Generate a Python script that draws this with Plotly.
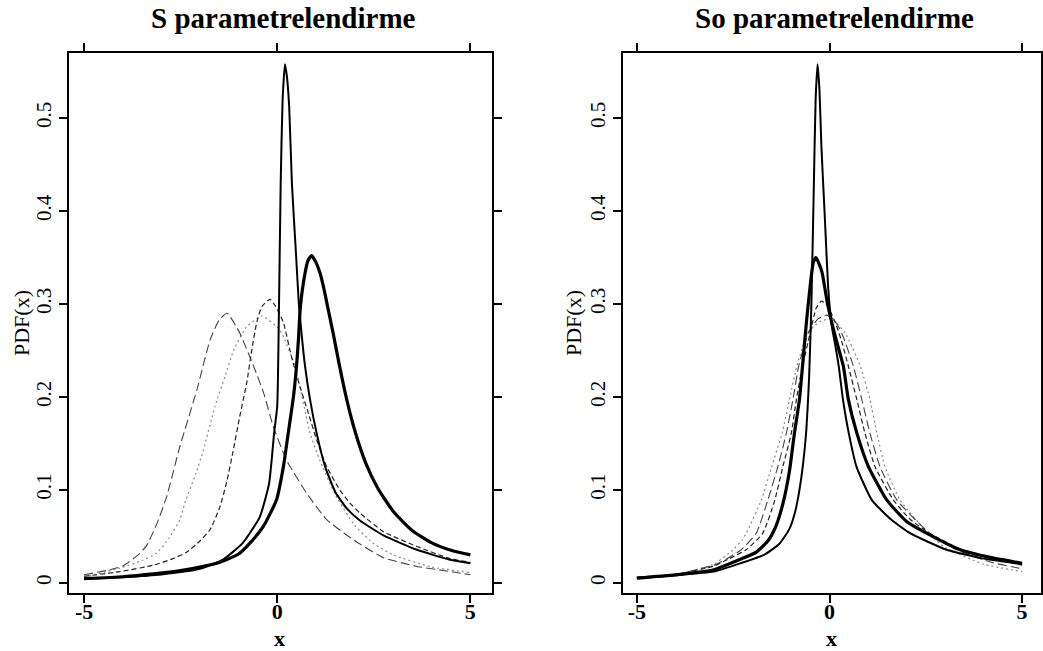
import plotly.graph_objects as go

# ---------------- Data ----------------
# Left panel: "S parametrelendirme"
s_a05_x = [-5.0, -4.0, -3.0, -2.0, -1.4, -0.89, -0.45, -0.21, -0.08, 0.0, 0.04, 0.09, 0.14, 0.2, 0.25, 0.31, 0.38, 0.49, 0.56, 0.63, 0.72, 0.85, 1.02, 1.24, 1.5, 1.8, 2.14, 2.75, 3.62, 4.47, 5.0]
s_a05_y = [0.004, 0.006, 0.009, 0.015, 0.025, 0.043, 0.071, 0.107, 0.161, 0.19, 0.28, 0.43, 0.52, 0.558, 0.545, 0.512, 0.43, 0.351, 0.300, 0.268, 0.233, 0.197, 0.161, 0.125, 0.098, 0.080, 0.067, 0.051, 0.0355, 0.0247, 0.021]

s_a075_x = [-5.0, -4.0, -3.2, -2.5, -1.91, -1.48, -1.0, -0.7, -0.36, -0.02, 0.16, 0.285, 0.42, 0.5, 0.55, 0.6, 0.72, 0.8, 0.89, 1.0, 1.11, 1.2, 1.3, 1.45, 1.6, 1.8, 2.0, 2.3, 2.6, 3.0, 3.5, 4.0, 4.5, 5.0]
s_a075_y = [0.0045, 0.0065, 0.0095, 0.013, 0.0176, 0.022, 0.031, 0.043, 0.0606, 0.089, 0.125, 0.161, 0.200, 0.233, 0.262, 0.297, 0.333, 0.347, 0.352, 0.345, 0.333, 0.318, 0.298, 0.268, 0.236, 0.197, 0.165, 0.128, 0.102, 0.077, 0.056, 0.043, 0.035, 0.030]

s_a1_x = [-5.0, -4.07, -3.2, -2.7, -2.34, -2.0, -1.74, -1.48, -1.3, -1.15, -0.97, -0.79, -0.66, -0.53, -0.4, -0.19, -0.05, 0.16, 0.37, 0.59, 0.81, 1.02, 1.28, 1.62, 1.88, 2.14, 2.75, 3.62, 4.47, 5.0]
s_a1_y = [0.007, 0.012, 0.019, 0.026, 0.033, 0.045, 0.057, 0.082, 0.110, 0.140, 0.179, 0.215, 0.250, 0.280, 0.297, 0.305, 0.298, 0.280, 0.243, 0.211, 0.182, 0.154, 0.125, 0.100, 0.086, 0.075, 0.055, 0.039, 0.026, 0.022]

s_a125_x = [-5.0, -4.33, -4.0, -3.6, -3.38, -3.1, -2.86, -2.52, -2.08, -1.74, -1.5, -1.3, -1.05, -0.96, -0.61, -0.35, -0.1, 0.24, 0.76, 1.28, 1.98, 2.75, 3.62, 4.47, 5.0]
s_a125_y = [0.0086, 0.014, 0.018, 0.030, 0.040, 0.065, 0.093, 0.1465, 0.2075, 0.261, 0.283, 0.290, 0.275, 0.268, 0.233, 0.204, 0.168, 0.132, 0.0965, 0.068, 0.046, 0.027, 0.0176, 0.0122, 0.0086]

s_a15_x = [-5.0, -4.07, -3.5, -3.12, -2.8, -2.52, -2.39, -2.1, -1.91, -1.61, -1.35, -1.13, -0.8, -0.4, 0.07, 0.46, 0.85, 1.1, 1.5, 2.0, 2.5, 3.0, 4.0, 5.0]
s_a15_y = [0.006, 0.0158, 0.024, 0.032, 0.048, 0.068, 0.086, 0.118, 0.143, 0.190, 0.222, 0.250, 0.275, 0.287, 0.272, 0.233, 0.161, 0.132, 0.095, 0.062, 0.042, 0.030, 0.017, 0.011]

# Right panel: "So parametrelendirme"
so_a05_x = [-5.0, -4.0, -3.0, -2.27, -1.7, -1.3, -1.04, -0.9, -0.78, -0.68, -0.6, -0.53, -0.47, -0.41, -0.36, -0.31, -0.26, -0.21, -0.12, -0.03, 0.06, 0.14, 0.24, 0.35, 0.5, 0.7, 1.1, 1.6, 2.09, 3.04, 4.0, 5.0]
so_a05_y = [0.005, 0.008, 0.012, 0.0215, 0.030, 0.042, 0.058, 0.075, 0.100, 0.130, 0.165, 0.220, 0.300, 0.420, 0.520, 0.558, 0.530, 0.469, 0.392, 0.315, 0.276, 0.258, 0.233, 0.197, 0.161, 0.125, 0.089, 0.068, 0.0534, 0.0355, 0.026, 0.020]

so_a075_x = [-5.0, -4.0, -3.0, -2.27, -1.9, -1.6, -1.4, -1.21, -1.04, -0.91, -0.78, -0.7, -0.6, -0.5, -0.42, -0.35, -0.2, -0.05, 0.15, 0.36, 0.49, 0.71, 1.01, 1.49, 2.0, 2.52, 3.39, 4.2, 5.0]
so_a075_y = [0.005, 0.0085, 0.014, 0.026, 0.033, 0.045, 0.060, 0.085, 0.120, 0.161, 0.197, 0.233, 0.280, 0.320, 0.345, 0.350, 0.335, 0.300, 0.265, 0.233, 0.197, 0.161, 0.125, 0.089, 0.066, 0.0534, 0.0355, 0.027, 0.021]

so_a1_x = [-5.0, -4.0, -3.0, -2.6, -2.16, -1.73, -1.42, -1.21, -0.99, -0.86, -0.7, -0.5, -0.35, -0.21, -0.05, 0.15, 0.3, 0.49, 0.71, 0.92, 1.18, 1.66, 2.1, 2.6, 3.3, 4.2, 5.0]
so_a1_y = [0.006, 0.009, 0.018, 0.026, 0.0355, 0.0534, 0.089, 0.125, 0.161, 0.197, 0.233, 0.269, 0.295, 0.303, 0.298, 0.280, 0.262, 0.233, 0.197, 0.161, 0.125, 0.089, 0.068, 0.0534, 0.038, 0.026, 0.019]

so_a125_x = [-5.0, -4.0, -3.0, -2.7, -2.29, -1.9, -1.6, -1.34, -1.12, -0.95, -0.8, -0.55, -0.3, -0.07, 0.12, 0.32, 0.62, 0.84, 1.05, 1.31, 1.75, 2.6, 3.3, 4.2, 5.0]
so_a125_y = [0.006, 0.009, 0.019, 0.025, 0.0355, 0.0534, 0.089, 0.125, 0.161, 0.197, 0.233, 0.269, 0.284, 0.288, 0.283, 0.2685, 0.233, 0.197, 0.161, 0.125, 0.089, 0.0534, 0.0355, 0.022, 0.015]

so_a15_x = [-5.0, -4.0, -3.0, -2.5, -2.27, -2.16, -1.77, -1.5, -1.23, -1.04, -0.85, -0.56, -0.25, 0.05, 0.41, 0.8, 1.05, 1.23, 1.44, 1.83, 2.56, 3.0, 4.0, 5.0]
so_a15_y = [0.005, 0.009, 0.020, 0.0355, 0.046, 0.0534, 0.089, 0.125, 0.161, 0.197, 0.233, 0.269, 0.281, 0.284, 0.2685, 0.233, 0.197, 0.161, 0.125, 0.089, 0.0534, 0.038, 0.020, 0.012]

x_ticks = [-5, 0, 5]
x_ticktext = ["-5", "0", "5"]
y_ticks = [0.0, 0.1, 0.2, 0.3, 0.4, 0.5]
y_ticktext = ["0", "0.1", "0.2", "0.3", "0.4", "0.5"]

panel_titles = ["S parametrelendirme", "So parametrelendirme"]
x_title = "x"
y_title = "PDF(x)"

# ---------------- Styles ----------------
style = {
    "a05": dict(color="black", width=2.0),
    "a075": dict(color="black", width=3.2),
    "a1": dict(color="#222222", width=1.2, dash="5px,3px"),
    "a125": dict(color="#444444", width=1.1, dash="9px,4px"),
    "a15": dict(color="#8a8a8a", width=1.2, dash="2px,3px"),
}

left = [("a15", s_a15_x, s_a15_y), ("a125", s_a125_x, s_a125_y), ("a1", s_a1_x, s_a1_y),
        ("a05", s_a05_x, s_a05_y), ("a075", s_a075_x, s_a075_y)]
right = [("a15", so_a15_x, so_a15_y), ("a125", so_a125_x, so_a125_y), ("a1", so_a1_x, so_a1_y),
         ("a05", so_a05_x, so_a05_y), ("a075", so_a075_x, so_a075_y)]

fig = go.Figure()
for key, xs, ys in left:
    fig.add_trace(go.Scatter(x=xs, y=ys, mode="lines", line=dict(shape="spline", smoothing=0.5, **style[key]),
                             xaxis="x", yaxis="y", showlegend=False, hoverinfo="skip"))
for key, xs, ys in right:
    fig.add_trace(go.Scatter(x=xs, y=ys, mode="lines", line=dict(shape="spline", smoothing=0.5, **style[key]),
                             xaxis="x2", yaxis="y2", showlegend=False, hoverinfo="skip"))

W, H = 1043, 651
font_family = "Liberation Serif, Times New Roman, serif"

def xax(domain, rng):
    return dict(domain=domain, range=rng, tickvals=x_ticks, ticktext=x_ticktext,
                ticks="outside", ticklen=8, tickwidth=1.5, tickcolor="black",
                showline=True, linecolor="black", linewidth=1.8, mirror="ticks",
                showgrid=False, zeroline=False, fixedrange=True, automargin=False,
                ticklabelstandoff=-10,
                tickfont=dict(family=font_family, size=22, color="black", weight="bold"))

def yax(domain, rng, anchor):
    return dict(domain=domain, range=rng, tickvals=y_ticks, ticktext=y_ticktext, anchor=anchor,
                ticks="outside", ticklen=8, tickwidth=1.5, tickcolor="black", tickangle=-90,
                showline=True, linecolor="black", linewidth=1.8, mirror="ticks",
                showgrid=False, zeroline=False, fixedrange=True, automargin=False,
                tickfont=dict(family=font_family, size=21, color="black"))

ydom = [58 / H, 598 / H]
fig.update_layout(
    width=W, height=H,
    margin=dict(l=0, r=0, t=0, b=0, autoexpand=False),
    paper_bgcolor="white", plot_bgcolor="white",
    xaxis=dict(anchor="y", **xax([69 / W, 492 / W], [-5.39, 5.56])),
    yaxis=yax(ydom, [-0.011, 0.570], "x"),
    xaxis2=dict(anchor="y2", **xax([623 / W, 1041 / W], [-5.36, 5.49])),
    yaxis2=yax(ydom, [-0.011, 0.570], "x2"),
)

annotations = []
for cx, t in [(283, panel_titles[0]), (834, panel_titles[1])]:
    annotations.append(dict(x=cx / W, y=1 - 18 / H, xref="paper", yref="paper", text="<b>" + t + "</b>",
                            showarrow=False, xanchor="center", yanchor="middle",
                            font=dict(family=font_family, size=29, color="black")))
for cx in [279, 831]:
    annotations.append(dict(x=cx / W, y=1 - 638 / H, xref="paper", yref="paper", text="<b>" + x_title + "</b>",
                            showarrow=False, xanchor="center", yanchor="middle",
                            font=dict(family=font_family, size=22, color="black")))
for cx in [21, 573]:
    annotations.append(dict(x=cx / W, y=1 - 323 / H, xref="paper", yref="paper", text=y_title,
                            showarrow=False, xanchor="center", yanchor="middle", textangle=-90,
                            font=dict(family=font_family, size=22, color="black")))
fig.update_layout(annotations=annotations)

fig.write_html("out.html", config={"displayModeBar": False},
               post_script="document.body.style.margin='0';document.body.style.overflow='hidden';")
